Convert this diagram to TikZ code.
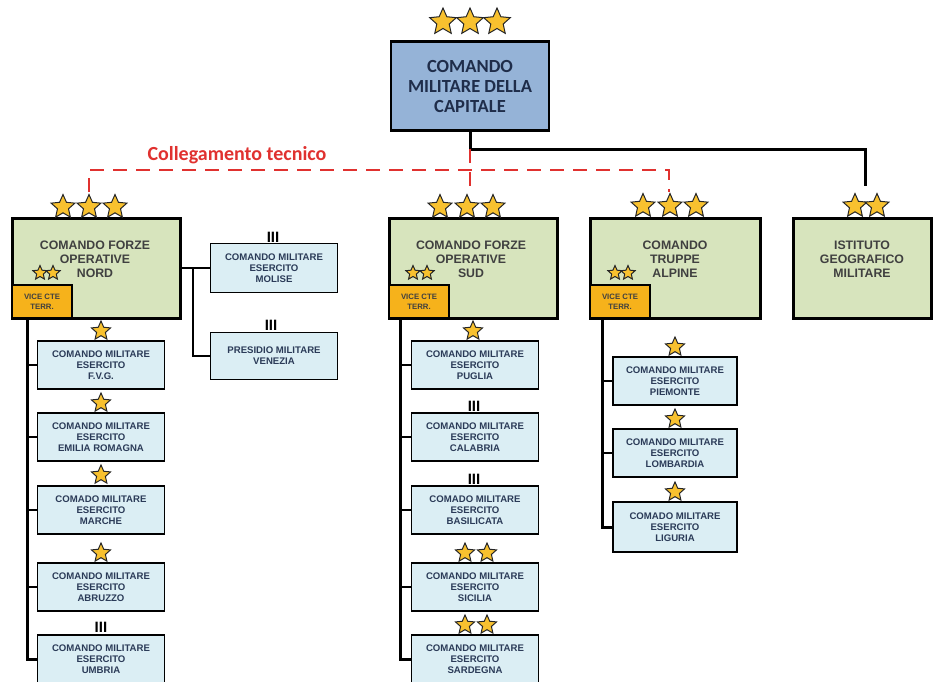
\documentclass[tikz,border=0pt]{standalone}
\usepackage{fontspec}
\setmainfont{Liberation Sans}
\newfontfamily\calibri{Carlito}
\usetikzlibrary{shapes.geometric}

\definecolor{cmcblue}{HTML}{95B3D7}
\definecolor{cfogreen}{HTML}{D7E4BD}
\definecolor{viceorange}{HTML}{F6B21B}
\definecolor{cmeblue}{HTML}{DBEEF4}
\definecolor{stargold}{HTML}{F8C12F}
\definecolor{navytext}{HTML}{1F2D4A}
\definecolor{cmetext}{HTML}{2B3B58}
\definecolor{linkred}{HTML}{E0312F}

\tikzset{
  rank/.style={star,star points=5,star point ratio=2.15,draw=black!85,
    line width=1pt,fill=stargold,inner sep=0pt,minimum size=#1},
  colonel/.style={inner sep=0pt,font=\bfseries\fontsize{15}{15}\selectfont},
  cmcbox/.style={draw,line width=2.2pt,fill=cmcblue,text=navytext,
    minimum width=158pt,minimum height=89pt,align=center,
    font=\calibri\bfseries\fontsize{18.5}{20}\selectfont},
  cfobox/.style={draw,line width=3pt,fill=cfogreen,
    minimum width=168pt,minimum height=100pt},
  cfotext/.style={align=center,text=black!75,
    font=\bfseries\fontsize{12.3}{14}\selectfont},
  vicebox/.style={draw,line width=2.4pt,fill=viceorange,text=black!75,
    minimum width=60pt,minimum height=33pt,align=center,
    font=\bfseries\fontsize{7.8}{10}\selectfont},
  cmebox/.style={draw,line width=1.8pt,fill=cmeblue,text=cmetext,
    minimum width=127pt,minimum height=48pt,align=center,
    font=\bfseries\fontsize{9.6}{11}\selectfont},
  conn/.style={draw=black,line width=2pt},
  trunk/.style={draw=black,line width=3pt},
  link/.style={draw=linkred,line width=2.8pt,dash pattern=on 14pt off 9pt}
}

\begin{document}
\begin{tikzpicture}[x=1pt,y=-1pt]
\useasboundingbox (0,0) rectangle (940,681);

% vertice
\node[cmcbox] (cmc) at (470,86) {COMANDO\\MILITARE DELLA\\CAPITALE};
\node[rank=28pt] (cmc-s1) at (443,22) {};
\node[rank=28pt] (cmc-s2) at (470,22) {};
\node[rank=28pt] (cmc-s3) at (497,22) {};
\node[text=linkred,font=\calibri\bfseries\fontsize{20}{22}\selectfont]
  (linklbl) at (237,155) {Collegamento tecnico};

% comandi dipendenti
\node[cfobox] (nord) at (96,268) {};
\node[cfotext] (nordlbl) at (95,259) {COMANDO FORZE\\OPERATIVE\\NORD};
\node[cfobox] (sud) at (473,268) {};
\node[cfotext] (sudlbl) at (471,259) {COMANDO FORZE\\OPERATIVE\\SUD};
\node[cfobox,minimum width=170pt] (cta) at (675,268) {};
\node[cfotext] (ctalbl) at (675,259) {COMANDO\\TRUPPE\\ALPINE};
\node[cfobox,minimum width=138pt] (igm) at (862,268) {};
\node[cfotext] (igmlbl) at (862,259) {ISTITUTO\\GEOGRAFICO\\MILITARE};

\node[vicebox] (nordvice) at (42,301.5) {VICE CTE\\TERR.};
\node[vicebox] (sudvice) at (419,301.5) {VICE CTE\\TERR.};
\node[vicebox] (ctavice) at (620,301.5) {VICE CTE\\TERR.};

\node[rank=25pt] (nord-s1) at (63,207) {};
\node[rank=25pt] (nord-s2) at (89,207) {};
\node[rank=25pt] (nord-s3) at (115,207) {};
\node[rank=25pt] (sud-s1) at (440,207) {};
\node[rank=25pt] (sud-s2) at (467,207) {};
\node[rank=25pt] (sud-s3) at (493,207) {};
\node[rank=25pt] (cta-s1) at (643,206) {};
\node[rank=25pt] (cta-s2) at (670,206) {};
\node[rank=25pt] (cta-s3) at (696,206) {};
\node[rank=25pt] (igm-s1) at (855,206) {};
\node[rank=25pt] (igm-s2) at (877,206) {};

\node[rank=15pt] (nordvice-s1) at (40,273) {};
\node[rank=15pt] (nordvice-s2) at (53,273) {};
\node[rank=15pt] (sudvice-s1) at (413,273) {};
\node[rank=15pt] (sudvice-s2) at (427,273) {};
\node[rank=15pt] (ctavice-s1) at (615,273) {};
\node[rank=15pt] (ctavice-s2) at (628,273) {};

% comandi militari esercito - nord
\node[cmebox,minimum height=49pt] (molise) at (274,268) {COMANDO MILITARE\\ESERCITO\\MOLISE};
\node[cmebox,minimum height=47pt] (venezia) at (274,356) {PRESIDIO MILITARE\\VENEZIA};
\node[cmebox] (fvg) at (101,365) {COMANDO MILITARE\\ESERCITO\\F.V.G.};
\node[cmebox] (emilia) at (101,437) {COMANDO MILITARE\\ESERCITO\\EMILIA ROMAGNA};
\node[cmebox] (marche) at (101,510) {COMADO MILITARE\\ESERCITO\\MARCHE};
\node[cmebox] (abruzzo) at (101,587) {COMANDO MILITARE\\ESERCITO\\ABRUZZO};
\node[cmebox] (umbria) at (101,659) {COMANDO MILITARE\\ESERCITO\\UMBRIA};
\node[colonel] (molise-r) at (273,237) {III};
\node[colonel] (venezia-r) at (271,325) {III};
\node[rank=20pt] (fvg-r) at (101,331) {};
\node[rank=20pt] (emilia-r) at (101,403) {};
\node[rank=20pt] (marche-r) at (101,475) {};
\node[rank=20pt] (abruzzo-r) at (101,553) {};
\node[colonel] (umbria-r) at (101,627) {III};

% comandi militari esercito - sud
\node[cmebox] (puglia) at (475,365) {COMANDO MILITARE\\ESERCITO\\PUGLIA};
\node[cmebox] (calabria) at (475,437) {COMANDO MILITARE\\ESERCITO\\CALABRIA};
\node[cmebox] (basilicata) at (475,510) {COMADO MILITARE\\ESERCITO\\BASILICATA};
\node[cmebox] (sicilia) at (475,587) {COMANDO MILITARE\\ESERCITO\\SICILIA};
\node[cmebox] (sardegna) at (475,659) {COMANDO MILITARE\\ESERCITO\\SARDEGNA};
\node[rank=20pt] (puglia-r) at (473,331) {};
\node[colonel] (calabria-r) at (474,406) {III};
\node[colonel] (basilicata-r) at (474,479) {III};
\node[rank=20pt] (sicilia-r1) at (465,553) {};
\node[rank=20pt] (sicilia-r2) at (487,553) {};
\node[rank=20pt] (sardegna-r1) at (465,625) {};
\node[rank=20pt] (sardegna-r2) at (487,625) {};

% comandi militari esercito - alpini
\node[cmebox,minimum width=124pt] (piemonte) at (675,381) {COMANDO MILITARE\\ESERCITO\\PIEMONTE};
\node[cmebox,minimum width=124pt] (lombardia) at (675,453) {COMANDO MILITARE\\ESERCITO\\LOMBARDIA};
\node[cmebox,minimum width=124pt,minimum height=50pt] (liguria) at (675,527) {COMADO MILITARE\\ESERCITO\\LIGURIA};
\node[rank=20pt] (piemonte-r) at (675,347) {};
\node[rank=20pt] (lombardia-r) at (675,419) {};
\node[rank=20pt] (liguria-r) at (675,492) {};

% collegamenti
\coordinate (hub) at (470,149);
\coordinate (igmtop) at (865,186);
\coordinate (nordlink) at (89,192);
\coordinate (sudlink) at (470,192);
\coordinate (ctalink) at (669,192);
\coordinate (nordfork) at (193,268);
\coordinate (nordtrunk) at (27,318);
\coordinate (sudtrunk) at (400,318);
\coordinate (ctatrunk) at (602,318);

\path[trunk] (cmc.south) -- (hub) -| (igmtop);
\path[link] (hub) -- (sudlink);
\path[link] (nordlink) -- ++(0,-22) -| (ctalink);

\path[conn] (nord.east) -- (molise.west);
\path[conn] (nordfork) |- (venezia.west);

\path[trunk] (nordtrunk) |- (umbria.west);
\path[conn] (nordtrunk |- fvg.west) -- (fvg.west);
\path[conn] (nordtrunk |- emilia.west) -- (emilia.west);
\path[conn] (nordtrunk |- marche.west) -- (marche.west);
\path[conn] (nordtrunk |- abruzzo.west) -- (abruzzo.west);

\path[trunk] (sudtrunk) |- (sardegna.west);
\path[conn] (sudtrunk |- puglia.west) -- (puglia.west);
\path[conn] (sudtrunk |- calabria.west) -- (calabria.west);
\path[conn] (sudtrunk |- basilicata.west) -- (basilicata.west);
\path[conn] (sudtrunk |- sicilia.west) -- (sicilia.west);

\path[trunk] (ctatrunk) |- (liguria.west);
\path[conn] (ctatrunk |- piemonte.west) -- (piemonte.west);
\path[conn] (ctatrunk |- lombardia.west) -- (lombardia.west);
\end{tikzpicture}
\end{document}
